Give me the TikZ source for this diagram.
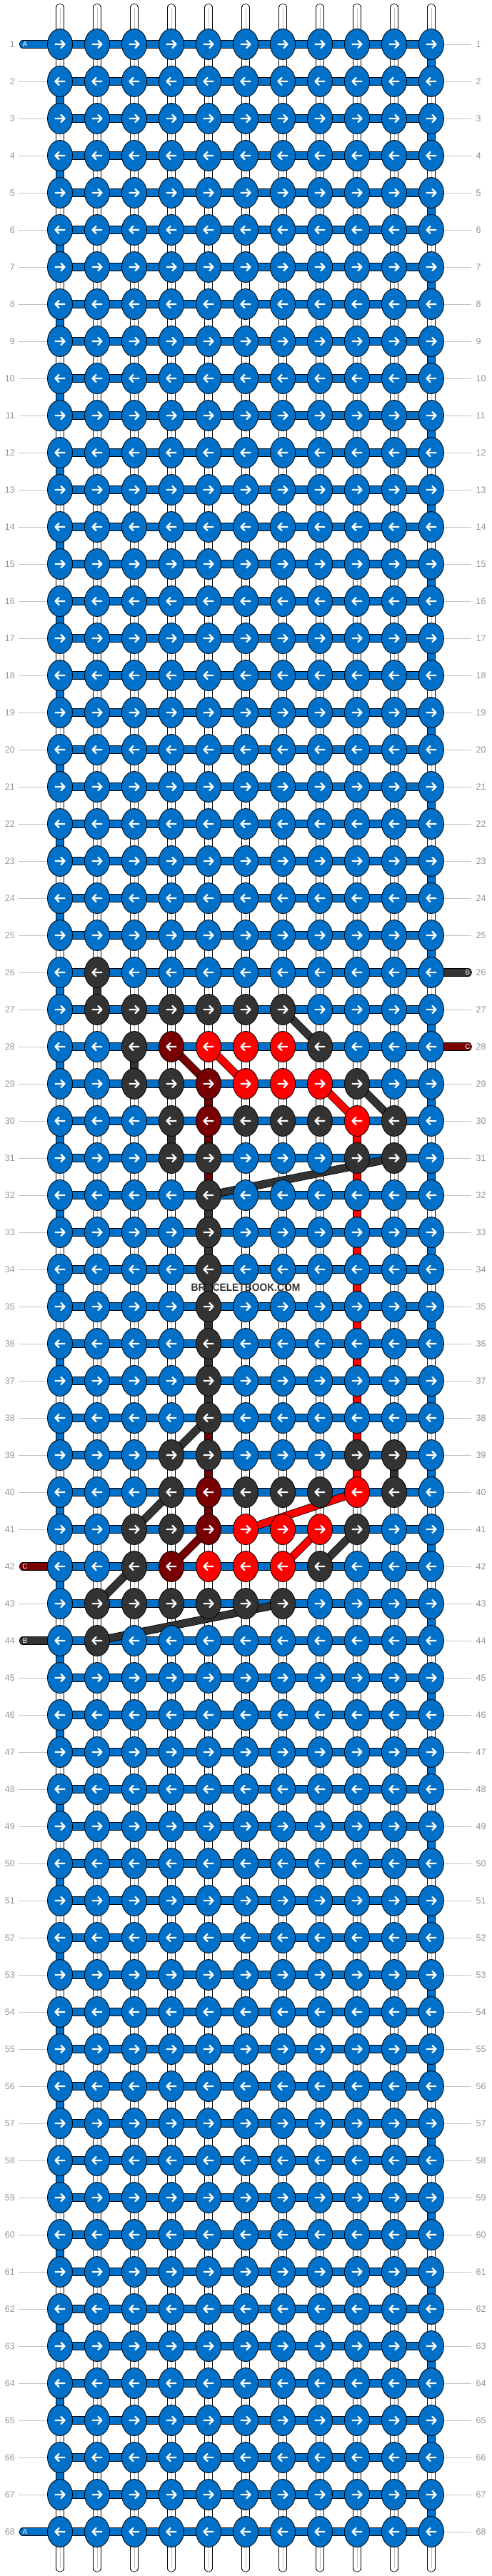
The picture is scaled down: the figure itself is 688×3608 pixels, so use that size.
\documentclass[tikz,border=0pt]{standalone}
\usepackage{fontspec}
\setmainfont{Liberation Sans}
\usetikzlibrary{shapes.geometric}

\definecolor{knA}{RGB}{0,112,200}
\definecolor{knB}{RGB}{51,51,51}
\definecolor{knC}{RGB}{120,0,0}
\definecolor{knD}{RGB}{255,0,0}
\definecolor{numgray}{RGB}{150,150,150}
\definecolor{guidegray}{RGB}{195,195,195}

\pgfdeclarelayer{paper}
\pgfdeclarelayer{threads}
\pgfsetlayers{paper,threads,main}

% one row of knots: #1 = row, #2 = colour letters of the 11 knots
\newcommand{\knotrow}[2]{%
  \foreach \kn [count=\i from 0] in {#2} {
    \node[knot, fill=kn\kn] (K#1-\i) at ({84+52*\i},{62+52*(#1-1)}) {};
    \ifodd#1 \def\arr{1}\else\def\arr{-1}\fi
    \draw[knotarrow, shift={(K#1-\i.center)}, xscale=\arr]
      (-6.5,0) -- (6.5,0) (1.5,-5) -- (6.5,0) -- (1.5,5);
  }}

\begin{document}
\begin{tikzpicture}[x=1pt, y=-1pt,
% common options for the knots:
knot/.style = {ellipse, draw=black, line width=0.8pt, minimum width=35pt,
            minimum height=43pt, inner sep=0},
knotarrow/.style = {white, line width=2.3pt, line cap=round, line join=round},
% common options for the threads:
thread/.style = {draw=black, line width=0.8pt, double=#1, double distance=9.6pt},
core/.style = {draw=guidegray, line width=0.7pt},
guide/.style = {draw=guidegray, line width=0.8pt},
rownum/.style = {text=numgray, inner sep=0, font=\fontsize{12.5}{14}\selectfont},
tailtag/.style = {text=white, inner sep=0, font=\fontsize{10}{12}\selectfont}]

\begin{pgfonlayer}{paper}
\fill[white] (0,0) rectangle (688,3608);
\end{pgfonlayer}
\useasboundingbox (0,0) rectangle (688,3608);

% knots
\foreach \r in {1,...,25} {\knotrow{\r}{A,A,A,A,A,A,A,A,A,A,A}}
\knotrow{26}{A,B,A,A,A,A,A,A,A,A,A}
\knotrow{27}{A,B,B,B,B,B,B,A,A,A,A}
\knotrow{28}{A,A,B,C,D,D,D,B,A,A,A}
\knotrow{29}{A,A,B,B,C,D,D,D,B,A,A}
\knotrow{30}{A,A,A,B,C,B,B,B,D,B,A}
\knotrow{31}{A,A,A,B,B,A,A,A,B,B,A}
\foreach \r in {32,...,38} {\knotrow{\r}{A,A,A,A,B,A,A,A,A,A,A}}
\knotrow{39}{A,A,A,B,B,A,A,A,B,B,A}
\knotrow{40}{A,A,A,B,C,B,B,B,D,B,A}
\knotrow{41}{A,A,B,B,C,D,D,D,B,A,A}
\knotrow{42}{A,A,B,C,D,D,D,B,A,A,A}
\knotrow{43}{A,B,B,B,B,B,B,A,A,A,A}
\knotrow{44}{A,B,A,A,A,A,A,A,A,A,A}
\foreach \r in {45,...,68} {\knotrow{\r}{A,A,A,A,A,A,A,A,A,A,A}}

\begin{pgfonlayer}{threads}
% base strands, tail to tail
\foreach \c in {0,...,10} {
  \coordinate (T\c) at ({84+52*\c},10.6);
  \coordinate (E\c) at ({84+52*\c},3597);
  \draw[thread=white, line cap=round] (T\c) -- (K1-\c.center) -- (K68-\c.center) -- (E\c);
  \draw[core] (T\c) -- (E\c);
}
% working strand turning at the edges
\foreach \r in {1,...,67} {
  \pgfmathtruncatemacro\s{\r+1}
  \ifodd\r \draw[thread=knA] (K\r-10.center) -- (K\s-10.center);
  \else \draw[thread=knA] (K\r-0.center) -- (K\s-0.center); \fi
}
% coloured strands going down
\foreach \r/\c/\col in {26/1/knB, 28/2/knB, 30/3/knB, 32/4/knB, 33/4/knB,
    34/4/knB, 35/4/knB, 36/4/knB, 37/4/knB, 39/9/knB,
    29/4/knC, 30/4/knC, 31/4/knC, 38/4/knC, 39/4/knC, 40/4/knC,
    30/8/knD, 31/8/knD, 32/8/knD, 33/8/knD, 34/8/knD, 35/8/knD,
    36/8/knD, 37/8/knD, 38/8/knD, 39/8/knD} {
  \pgfmathtruncatemacro\s{\r+1}
  \draw[thread=\col] (K\r-\c.center) -- (K\s-\c.center);
}
% rows
\foreach \r in {1,...,68}
  \draw[thread=knA] (K\r-0.center) -- (K\r-10.center);
% coloured strands going across
\foreach \a/\b/\col in {27-6/28-7/knB, 28-3/29-4/knC, 28-4/29-5/knD,
    29-7/30-8/knD, 29-8/30-9/knB, 31-9/32-4/knB, 38-4/39-3/knB,
    40-3/41-2/knB, 40-8/41-5/knD, 41-4/42-3/knC, 41-7/42-6/knD,
    41-8/42-7/knB, 42-2/43-1/knB, 43-6/44-1/knB}
  \draw[thread=\col] (K\a.center) -- (K\b.center);
% loose ends at the sides
\foreach \r/\col/\lbl in {1/knA/A, 42/knC/C, 44/knB/B, 68/knA/A} {
  \coordinate (L\r) at (32.3,{62+52*(\r-1)});
  \draw[thread=\col, line cap=round] (L\r) -- (K\r-0.center);
  \node[tailtag] (LT\r) at (35,{62+52*(\r-1)}) {\lbl};
}
\foreach \r/\col/\lbl in {26/knB/B, 28/knC/C} {
  \coordinate (R\r) at (655.4,{62+52*(\r-1)});
  \draw[thread=\col, line cap=round] (K\r-10.center) -- (R\r);
  \node[tailtag] (RT\r) at (655,{62+52*(\r-1)}) {\lbl};
}
% guide lines to the row numbers
\foreach \r in {2,...,41,43,45,46,...,67} {
  \coordinate (GL\r) at (26,{62+52*(\r-1)});
  \draw[guide] (GL\r) -- (K\r-0.west);
}
\foreach \r in {1,...,25,27,29,30,...,68} {
  \coordinate (GR\r) at (660,{62+52*(\r-1)});
  \draw[guide] (K\r-10.east) -- (GR\r);
}
\end{pgfonlayer}

% row numbers
\foreach \r in {1,...,68} {
  \node[rownum, anchor=east] (NL\r) at (21,{62+52*(\r-1)}) {\r};
  \node[rownum, anchor=west] (NR\r) at (666.5,{62+52*(\r-1)}) {\r};
}

\node[text=knB, inner sep=0, font=\bfseries\fontsize{15}{18}\selectfont] (WM) at (344,1803.5)
  {\scalebox{0.92}[1]{BRACELETBOOK.COM}};
\end{tikzpicture}
\end{document}
